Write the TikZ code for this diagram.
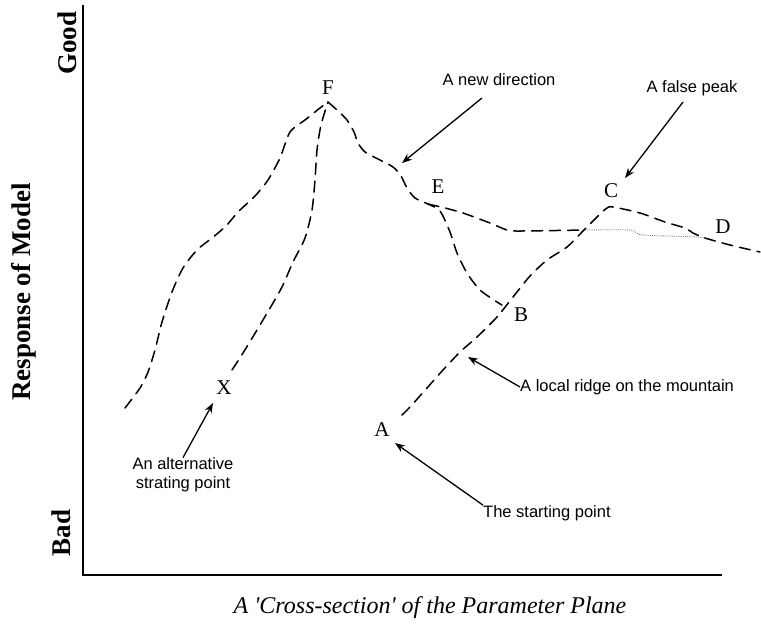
\documentclass[tikz,border=0pt]{standalone}
\usepackage{fontspec}
\setmainfont{Liberation Serif}
\setsansfont{Liberation Sans}
\newfontfamily\capfont{Liberation Serif}
\usetikzlibrary{arrows.meta}
\begin{document}
\begin{tikzpicture}[x=1pt,y=-1pt,
  curve/.style={line width=1.5pt, dash pattern=on 11pt off 7pt, line cap=round},
  dotl/.style={line width=0.9pt, black!50, dash pattern=on 1pt off 1.2pt},
  pointer/.style={line width=1.3pt, -{Stealth[length=10pt,width=7.5pt]}},
  ptlabel/.style={font=\fontsize{21}{21}\selectfont, inner sep=0pt},
  note/.style={font=\sffamily\fontsize{16.5}{19}\selectfont, inner sep=0pt, align=center},
  axlabel/.style={font=\bfseries\fontsize{27}{27}\selectfont, rotate=90, inner sep=0pt},
  axisline/.style={line width=1.8pt}]
\useasboundingbox (0,0) rectangle (761,625);
% axes
\coordinate (ytop) at (83,5);
\coordinate (origin) at (83,575);
\coordinate (xend) at (722,575);
\draw[axisline] (ytop) -- (origin) -- (xend);
\node[axlabel] (good) at (67,43) {Good};
\node[axlabel] (resp) at (24,292) {Response of Model};
\node[axlabel] (bad) at (61,533) {Bad};
\node[font=\capfont\itshape\fontsize{24}{24}\selectfont, inner sep=0pt] (cap) at (430,608) {A 'Cross-section' of the Parameter Plane};
% curves
\draw[curve] plot[smooth, tension=0.45] coordinates {(125,408) (140,388) (148,372) (155,350) (162,322) (172,292) (183,268) (197,250) (212,238) (226,226) (238,212) (255,196) (268,180) (280,158) (290,132) (305,120) (320,108) (328,102)};
\draw[curve] plot[smooth, tension=0.45] coordinates {(232,370) (243,353) (257,330) (273,303) (283,285) (293,262) (305,238) (312,210) (315,180) (317,150) (321,125) (328,102)};
\draw[curve] plot[smooth, tension=0.45] coordinates {(328,102) (337,110) (347,120) (354,132) (358,143) (365,152) (378,159) (393,167) (401,176) (407,188) (415,198) (428,204) (440,211) (450,232) (457,253) (467,273) (480,290) (497,302) (502,305)};
\draw[curve] plot[smooth, tension=0.45] coordinates {(428,204) (445,208) (463,213) (490,223) (507,230) (520,231) (585,230)};
\draw[dotl] plot[smooth, tension=0.45] coordinates {(585,230) (630,230) (643,235) (697,237) (712,240)};
\draw[curve] plot[smooth, tension=0.45] coordinates {(402,415) (410,407) (427,388) (443,370) (460,352) (477,337) (497,317) (513,297) (530,276) (547,260) (567,247) (583,231) (597,217) (607,208) (613,207) (640,213) (665,222) (685,228) (693,233) (705,238) (730,245) (760,252)};
% point labels
\node[ptlabel] (F) at (328,88) {F};
\node[ptlabel] (E) at (438,187) {E};
\node[ptlabel] (C) at (611,191) {C};
\node[ptlabel] (D) at (723,227) {D};
\node[ptlabel] (B) at (521,315) {B};
\node[ptlabel] (A) at (382,430) {A};
\node[ptlabel] (X) at (224,388) {X};
% notes
\node[note] (newdir) at (499,80) {A new direction};
\node[note] (falsepk) at (692,88) {A false peak};
\node[note, anchor=west] (ridge) at (520,387) {A local ridge on the mountain};
\node[note, anchor=west] (start) at (483,513) {The starting point};
\node[note] (alt) at (183,475) {An alternative\\strating point};
% arrow ends
\coordinate (newdirtail) at (482,98);
\coordinate (newdirhead) at (402,163);
\coordinate (falsetail) at (683,102);
\coordinate (falsehead) at (625,178);
\coordinate (ridgehead) at (468,357);
\coordinate (starthead) at (395,443);
\coordinate (althead) at (213,403);
\draw[pointer] (newdirtail) -- (newdirhead);
\draw[pointer] (falsetail) -- (falsehead);
\draw[pointer] (ridge.west) -- (ridgehead);
\draw[pointer] (start.north west) -- (starthead);
\draw[pointer] (alt.north) -- (althead);
\end{tikzpicture}
\end{document}
